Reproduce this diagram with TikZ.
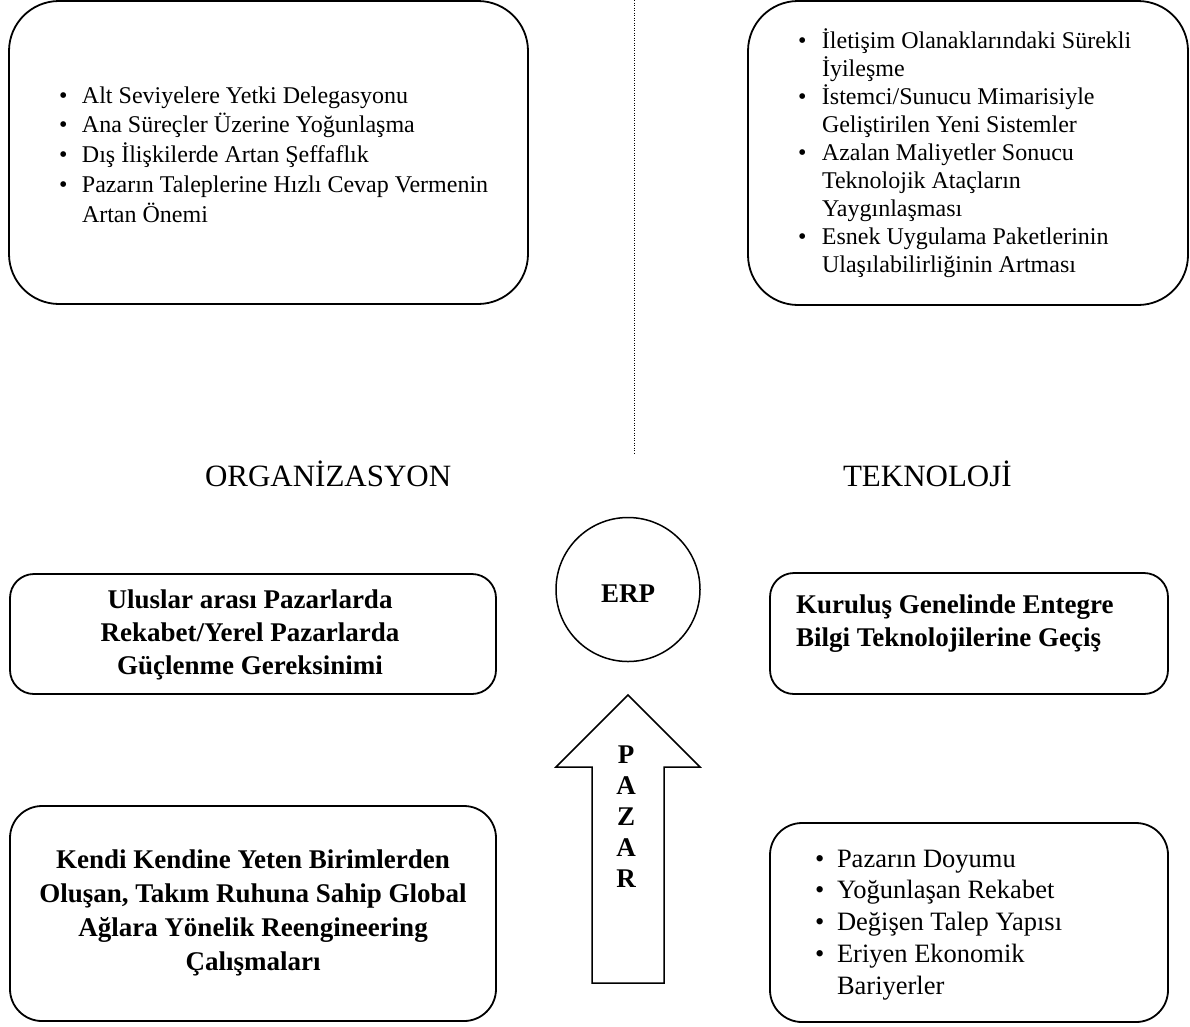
\documentclass[tikz,border=0pt]{standalone}
\usepackage{fontspec}
\setmainfont{Liberation Serif}

% one bullet line: bullet in a fixed-width slot, then the text
\newcommand\bitem[2]{\hbox{\hbox to #1{\textbullet\hfil}#2}}
% continuation line of a bullet, indented to the text column
\newcommand\bcont[2]{\hbox{\kern#1\relax #2}}
% centred line inside a block of width \ctrw
\newdimen\ctrw
\newcommand\ctr[1]{\hbox to \ctrw{\hfil#1\hfil}}

\begin{document}
\begin{tikzpicture}[x=1pt,y=-1pt,
  panel/.style={draw, line width=1.8pt, rounded corners=#1, inner sep=0pt},
  txt/.style={inner sep=0pt, outer sep=0pt},
  listfont/.style={font=\fontsize{24}{29}\selectfont},
  boldfont/.style={font=\fontsize{27}{33}\selectfont\bfseries},
  headfont/.style={font=\fontsize{31}{36}\selectfont}
]
\useasboundingbox (0,0) rectangle (1190,1026);

% ---------- dotted divider ----------
\coordinate (divTop) at (634,0);
\coordinate (divEnd) at (634,453);
\draw[line width=0.9pt, dash pattern=on 0.9pt off 1.6pt] (divTop) -- (divEnd);

% ---------- upper panels ----------
\node[panel=50pt, minimum width=519pt, minimum height=303pt] (orgTop) at (268.5,152.5) {};
\node[panel=50pt, minimum width=440pt, minimum height=304pt] (tekTop) at (968,153) {};

\node[txt, listfont, anchor=base west] (orgList) at (59,103) {\vtop{\baselineskip=29.9pt
  \bitem{23pt}{Alt Seviyelere Yetki Delegasyonu}
  \bitem{23pt}{Ana Süreçler Üzerine Yoğunlaşma}
  \bitem{23pt}{Dış İlişkilerde Artan Şeffaflık}
  \bitem{23pt}{Pazarın Taleplerine Hızlı Cevap Vermenin}
  \bcont{23pt}{Artan Önemi}}};

\node[txt, listfont, anchor=base west] (tekList) at (798,48) {\vtop{\baselineskip=28pt
  \bitem{24pt}{İletişim Olanaklarındaki Sürekli}
  \bcont{24pt}{İyileşme}
  \bitem{24pt}{İstemci/Sunucu Mimarisiyle}
  \bcont{24pt}{Geliştirilen Yeni Sistemler}
  \bitem{24pt}{Azalan Maliyetler Sonucu}
  \bcont{24pt}{Teknolojik Ataçların}
  \bcont{24pt}{Yaygınlaşması}
  \bitem{24pt}{Esnek Uygulama Paketlerinin}
  \bcont{24pt}{Ulaşılabilirliğinin Artması}}};

% ---------- headings ----------
\node[txt, headfont, anchor=base west] (orgHead) at (205,486) {ORGANİZASYON};
\node[txt, headfont, anchor=base west] (tekHead) at (843,486) {TEKNOLOJİ};

% ---------- ERP circle ----------
\node[draw, circle, line width=1.5pt, minimum size=144pt, inner sep=0pt] (erp) at (628,589.5) {};
\node[txt, boldfont, anchor=base] (erpText) at (628,602) {ERP};

% ---------- middle panels ----------
\node[panel=24pt, minimum width=486pt, minimum height=120pt] (orgMid) at (253,634) {};
\node[panel=24pt, minimum width=398pt, minimum height=121pt] (tekMid) at (969,633.5) {};

\node[txt, boldfont, anchor=base] (orgMidText) at (250,608) {\ctrw=420pt\vtop{\baselineskip=33pt
  \ctr{Uluslar arası Pazarlarda}
  \ctr{Rekabet/Yerel Pazarlarda}
  \ctr{Güçlenme Gereksinimi}}};

\node[txt, boldfont, anchor=base west] (tekMidText) at (796,613) {\vtop{\baselineskip=33pt
  \hbox{Kuruluş Genelinde Entegre}
  \hbox{Bilgi Teknolojilerine Geçiş}}};

% ---------- market arrow ----------
\draw[line width=1.5pt, line join=miter]
  (628,695) -- (700,767) -- (664,767) -- (664,983) -- (592,983)
  -- (592,767) -- (556,767) -- cycle;
\node[txt, boldfont, anchor=base] (pazar) at (626,763) {\ctrw=40pt\vtop{\baselineskip=31pt
  \ctr{P}\ctr{A}\ctr{Z}\ctr{A}\ctr{R}}};

% ---------- lower panels ----------
\node[panel=32pt, minimum width=486pt, minimum height=215pt] (orgBot) at (253,913.5) {};
\node[panel=32pt, minimum width=398pt, minimum height=199pt] (tekBot) at (969,922.5) {};

\node[txt, boldfont, anchor=base] (orgBotText) at (253,868) {\ctrw=470pt\vtop{\baselineskip=34pt
  \ctr{Kendi Kendine Yeten Birimlerden}
  \ctr{Oluşan, Takım Ruhuna Sahip Global}
  \ctr{Ağlara Yönelik Reengineering}
  \ctr{Çalışmaları}}};

\node[txt, font=\fontsize{26.5}{31.5}\selectfont, anchor=base west] (tekBotList) at (815,867) {\vtop{\baselineskip=31.8pt
  \bitem{22pt}{Pazarın Doyumu}
  \bitem{22pt}{Yoğunlaşan Rekabet}
  \bitem{22pt}{Değişen Talep Yapısı}
  \bitem{22pt}{Eriyen Ekonomik}
  \bcont{22pt}{Bariyerler}}};
\end{tikzpicture}
\end{document}
